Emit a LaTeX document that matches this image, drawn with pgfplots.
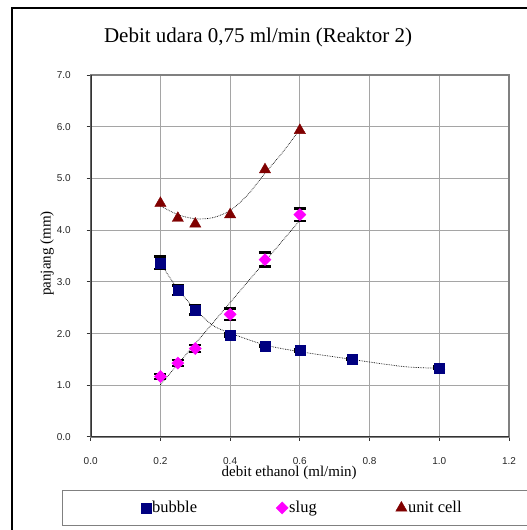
\documentclass[border=0pt]{standalone}
\usepackage{fontspec}
\setmainfont{Liberation Serif}
\newfontfamily\arial{Liberation Sans}
\usepackage{pgfplots}
\pgfplotsset{compat=1.18}
\definecolor{bnavy}{RGB}{0,0,128}
\definecolor{smag}{RGB}{255,0,255}
\definecolor{ured}{RGB}{128,0,0}
\definecolor{gridg}{RGB}{165,165,165}
\definecolor{frameg}{RGB}{128,128,128}
\begin{document}
\begin{tikzpicture}[x=1pt,y=1pt]
\useasboundingbox (0,0) rectangle (527,530);
\draw[line width=2pt] (12.3,-5) -- (12.3,521.5) -- (540,521.5);
\node[anchor=base, inner sep=0pt, font=\fontsize{21}{25}\selectfont] at (258,487) {Debit udara 0,75 ml/min (Reaktor 2)};
\draw[frameg, line width=1.3pt] (62.3,4.3) rectangle (545,39.3);
\begin{axis}[
  at={(90.7pt,93pt)}, anchor=south west, scale only axis,
  width=418.3pt, height=362pt,
  xmin=0, xmax=1.2, ymin=0, ymax=7,
  xtick={0,0.2,0.4,0.6,0.8,1.0,1.2}, ytick={0,1,2,3,4,5,6,7},
  /pgf/number format/assume math mode=true,
  /pgf/number format/.cd, fixed, fixed zerofill, precision=1, /pgfplots/.cd,
  tick label style={font=\arial\fontsize{10}{12}\selectfont, text=black!85},
  yticklabel style={xshift=-12.4pt},
  xticklabel style={yshift=-12.7pt},
  tick pos=left, tick align=outside, major tick length=4pt,
  tick style={black!80, line width=1pt},
  grid=major, major grid style={gridg, line width=1.2pt},
  axis line style={frameg, line width=1.6pt},
  xlabel={debit ethanol (ml/min)},
  ylabel={panjang (mm)},
  xlabel style={at={(axis description cs:0.4745,-0.0994)}, anchor=center, font=\fontsize{15}{18}\selectfont},
  ylabel style={at={(axis description cs:-0.1043,0.507)}, anchor=center, rotate=0, font=\fontsize{15}{18}\selectfont},
  legend style={draw=none, fill=none, at={(axis description cs:0.1202,-0.196)}, anchor=west,
    font=\fontsize{16.5}{20}\selectfont, inner sep=0pt,
    nodes={inner sep=1pt},
    /tikz/every even column/.append style={column sep=78pt}},
  legend columns=3,
  legend image code/.code={\draw[#1] plot coordinates {(5.5pt,0pt)};},
]
% trend lines
\addplot[black, densely dotted, line width=0.7pt, smooth, forget plot] coordinates {
 (0.2,3.36) (0.25,2.86) (0.3,2.47) (0.35,2.16) (0.4,2.01) (0.5,1.78) (0.6,1.65) (0.75,1.50) (0.9,1.36) (1.0,1.33)};
\addplot[black, densely dotted, line width=0.7pt, forget plot] coordinates {(0.2,1.01) (0.6,4.19)};
\addplot[black, densely dotted, line width=0.7pt, smooth, forget plot] coordinates {
 (0.2,4.47) (0.25,4.30) (0.3,4.22) (0.35,4.24) (0.4,4.38) (0.45,4.68) (0.5,5.10) (0.55,5.50) (0.6,5.95)};
% bubble
\addplot[only marks, mark=square*, mark size=5pt, mark options={draw=bnavy, fill=bnavy},
  error bars/.cd, y dir=both, y explicit,
  error bar style={black, line width=1pt},
  error mark options={black, line width=2.5pt, mark size=6pt, rotate=90}]
 coordinates {(0.2,3.37) +- (0,0.12) (0.25,2.84) +- (0,0.09) (0.3,2.46) +- (0,0.09) (0.4,1.97) +- (0,0.03)
  (0.5,1.76) +- (0,0.02) (0.6,1.67) +- (0,0.02) (0.75,1.51) +- (0,0.02) (1.0,1.34) +- (0,0.02)};
\addlegendentry{bubble}
% slug
\addplot[only marks, mark=square*, mark size=4.3pt, mark options={draw=smag, fill=smag, rotate=45},
  error bars/.cd, y dir=both, y explicit,
  error bar style={black, line width=1pt},
  error mark options={black, line width=2.5pt, mark size=6pt, rotate=90}]
 coordinates {(0.2,1.17) +- (0,0.05) (0.25,1.43) +- (0,0.06) (0.3,1.71) +- (0,0.07) (0.4,2.37) +- (0,0.11)
  (0.5,3.43) +- (0,0.135) (0.6,4.30) +- (0,0.12)};
\addlegendentry{slug}
% unit cell
\addplot[only marks, mark=triangle*, mark size=6.5pt, mark options={draw=ured, fill=ured}]
 coordinates {(0.2,4.52) (0.25,4.23) (0.3,4.12) (0.4,4.30) (0.5,5.17) (0.6,5.93)};
\addlegendentry{unit cell}
\draw[black!80, line width=1.6pt] (rel axis cs:0,1) -- (rel axis cs:0,0) -- (rel axis cs:1,0);
\end{axis}
\end{tikzpicture}
\end{document}
